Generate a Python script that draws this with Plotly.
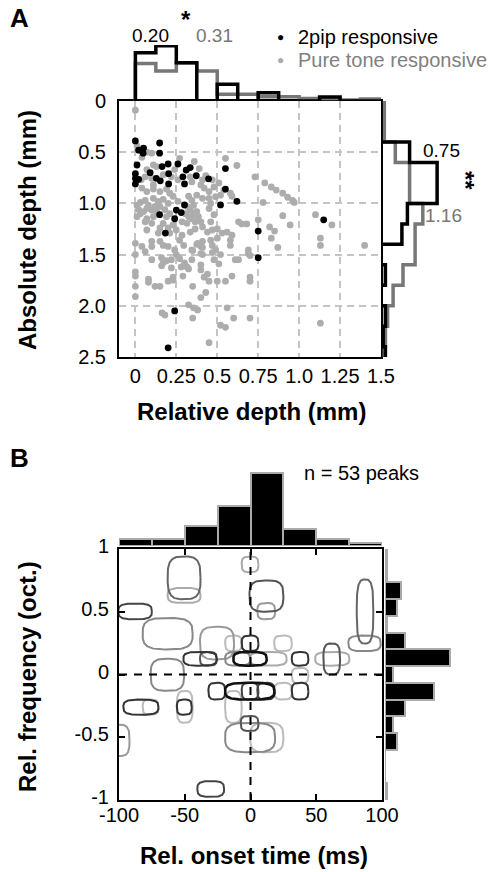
import numpy as np
import plotly.graph_objects as go

W, H = 501, 872
FONT = "Liberation Sans, Arial, Helvetica, sans-serif"

# ---------------- Panel A data ----------------
black_rel = [0, 0.148, 0.02, 0.05, 0.047, 0.148, 0.01, 0.20, 0.163, 0.26, 0.09, 0, 0, 0.02, 0,
             0.128, 0.152, 0.203, 0.31, 0.335, 0.372, 0.29, 0.447, 0.55, 0.203, 0.30, 0.55, 0.52,
             0.62, 0.30, 0.25, 0.28, 0.148, 0.24, 0.183, 0.75, 1.15, 0.75, 0.24, 0.20]
black_abs = [0.39, 0.41, 0.48, 0.46, 0.51, 0.51, 0.625, 0.615, 0.64, 0.615, 0.70, 0.71, 0.755, 0.765, 0.81,
             0.755, 0.78, 0.71, 0.675, 0.65, 0.73, 0.74, 0.76, 0.66, 0.81, 0.81, 0.86, 1.015,
             0.98, 1.015, 1.065, 1.09, 1.11, 1.15, 1.29, 1.27, 1.16, 1.53, 2.05, 2.41]

gray_rel = [0.00, 0.01, 0.07, 0.10, 0.04, 0.27, 0.36, 0.55, 0.62, 0.11, 0.07, 0.13, 0.315, 0.24, 0.39,
            0.035, 0.06, 0.10, 0.17, 0.22, 0.11, 0.26, 0.335, 0.345, 0.40, 0.41, 0.43, 0.47, 0.48, 0.51,
            0.54, 0.52, 0.58, 0.59, 0.42, 0.45, 0.04, 0.07, 0.11, 0.15, 0.19, 0.21, 0.11, 0.06, 0.03,
            0.14, 0.17, 0.20, 0.08, 0.12, 0.23, 0.26, 0.325, 0.345, 0.375, 0.41, 0.45, 0.49, 0.46, 0.355,
            0.01, 0.02, 0.03, 0.01, 0.05, 0.07, 0.10, 0.13, 0.15, 0.18, 0.21, 0.19, 0.11, 0.07, 0.315,
            0.335, 0.355, 0.375, 0.385, 0.345, 0.365, 0.325, 0.305, 0.45, 0.48, 0.40, 0.315, 0.285, 0.23,
            0.17, 0.20, 0.10, 0.06, 0.15, 0.07, 0.14, 0.21, 0.25, 0.285, 0.335, 0.365, 0.41, 0.44, 0.47,
            0.50, 0.53, 0.56, 0.59, 0.63, 0.65, 0.68, 0.46, 0.00, 0.04, 0.06, 0.10, 0.10, 0.15, 0.17,
            0.20, 0.24, 0.27, 0.295, 0.345, 0.375, 0.40, 0.41, 0.46, 0.47, 0.50, 0.49, 0.52, 0.58, 0.61,
            0.63, 0.69, 0.69, 0.10, 0.16, 0.17, 0.22, 0.345, 0.41, 0.48, 0.51, 0.40, 0.315,
            0.73, 0.79, 0.83, 0.86, 0.90, 0.93, 0.96, 0.97, 0.78, 0.90, 1.10, 1.20, 0.945, 0.82, 0.85,
            0.75, 0.83, 0.87, 1.13, 1.13, 1.40,
            0.70, 0.59, 0.70, 0.70, 0.55, 0.50, 0.45, 0.42, 0.43, 0.40, 0.35, 0.325, 0.355, 0.38, 0.35,
            0.56, 0.60, 0.70, 0.52, 0.55, 0.163, 0.18, 0.45, 1.13, 0.00, 0.00, 0.00, 0.00, 0.00, 0.08,
            0.08, 0.12, 0.15, 0.20, 0.23, 0.23, 0.22, 0.16, 0.19, 0.29, 0.28, 0.30, 0.325, 0.25, 0.27,
            0.35, 0.40, 0.44, 0.47, 0.40, 0.41, 0.38, 0.58]
gray_abs = [0.09, 0.44, 0.50, 0.51, 0.55, 0.56, 0.59, 0.56, 0.63, 0.625, 0.67, 0.64, 0.67, 0.67, 0.66,
            0.77, 0.74, 0.755, 0.72, 0.74, 0.82, 0.77, 0.74, 0.79, 0.82, 0.77, 0.73, 0.77, 0.84, 0.80,
            0.87, 0.92, 0.90, 0.93, 0.85, 0.885, 0.85, 0.885, 0.86, 0.885, 0.86, 0.90, 0.95, 0.97, 0.99,
            0.98, 0.96, 1.00, 1.02, 1.03, 0.93, 0.98, 0.93, 0.97, 0.92, 0.95, 0.95, 0.935, 1.00, 1.02,
            1.02, 1.06, 1.10, 1.13, 1.08, 1.05, 1.065, 1.08, 1.03, 1.06, 1.10, 1.13, 1.13, 1.15, 1.03,
            1.065, 1.10, 1.08, 1.13, 1.15, 1.18, 1.13, 1.10, 1.05, 1.11, 1.18, 1.195, 1.18, 1.21,
            1.195, 1.24, 1.195, 1.18, 1.24, 1.26, 1.29, 1.29, 1.26, 1.31, 1.28, 1.25, 1.23, 1.28, 1.26,
            1.25, 1.29, 1.28, 1.31, 1.18, 1.20, 1.20, 1.18, 1.39, 1.42, 1.47, 1.37, 1.42, 1.37, 1.41,
            1.42, 1.455, 1.36, 1.41, 1.455, 1.40, 1.42, 1.37, 1.36, 1.41, 1.34, 1.455, 1.50, 1.36, 1.55,
            1.55, 1.455, 1.49, 1.55, 1.53, 1.58, 1.55, 1.55, 1.50, 1.55, 1.59, 1.60, 1.62,
            0.74, 0.80, 0.84, 0.87, 0.90, 0.94, 0.97, 0.99, 0.99, 1.12, 1.11, 1.21, 1.21, 1.23, 1.27,
            1.16, 1.34, 1.43, 1.34, 1.41, 1.41,
            1.51, 1.71, 1.72, 1.76, 1.76, 1.76, 1.76, 1.72, 1.87, 1.92, 1.81, 1.99, 2.02, 2.04, 2.12,
            2.02, 2.12, 2.12, 2.19, 2.21, 2.07, 2.09, 2.36, 2.17, 1.50, 1.67, 1.71, 1.81, 1.91, 1.74,
            1.77, 1.81, 1.81, 1.76, 1.72, 1.75, 1.63, 1.61, 1.56, 1.71, 1.62, 1.58, 1.64, 1.50, 1.54,
            1.46, 1.65, 1.69, 1.48, 1.49, 1.43, 1.39, 1.41]

rel_edges = [0, 0.125, 0.25, 0.375, 0.5, 0.625, 0.75, 0.875, 1.0, 1.125, 1.25, 1.375, 1.5]
rel_hist_2pip = [0.284, 0.324, 0.225, 0.0, 0.098, 0.0, 0.049, 0.0, 0.0, 0.024, 0.0, 0.0]
rel_hist_tone = [0.22, 0.176, 0.225, 0.176, 0.04, 0.04, 0.025, 0.025, 0.015, 0.015, 0.006, 0.012]

abs_edges = [0, 0.2, 0.4, 0.6, 0.8, 1.0, 1.2, 1.4, 1.6, 1.8, 2.0, 2.2, 2.4, 2.6]
abs_hist_2pip = [0.0, 0.0, 0.13, 0.255, 0.255, 0.12, 0.095, 0.0, 0.02, 0.0, 0.02, 0.01, 0.02]
abs_hist_tone = [0.015, 0.015, 0.065, 0.13, 0.13, 0.19, 0.155, 0.155, 0.10, 0.055, 0.03, 0.02, 0.015]

rel_ticks = [0, 0.25, 0.5, 0.75, 1.0, 1.25, 1.5]
rel_ticktext = ["0", "0.25", "0.5", "0.75", "1.0", "1.25", "1.5"]
abs_ticks = [0, 0.5, 1.0, 1.5, 2.0, 2.5]
abs_ticktext = ["0", "0.5", "1.0", "1.5", "2.0", "2.5"]

# ---------------- Panel B data ----------------
time_bin_centers = [-87.5, -62.5, -37.5, -12.5, 12.5, 37.5, 62.5, 87.5]
time_counts = [2, 2, 6, 12, 22, 5, 2, 1]
freq_bin_centers = [-1 + (2 * k + 1) / 15 for k in range(15)]
freq_counts = [0.5, 0, 0, 3, 2, 5, 12, 2, 16, 5, 0.5, 3, 4, 0.5, 0.5]

# peak regions: onset time range (ms), frequency range (oct.), gray level
peak_t0 = [-63, -63, -6.7, -0.8, 5.2, -100.5, -82, -38.4, -19.3, -6.7, 18, 80.8, 74.4, -51, -38.4,
           -19.3, -13, -0.3, 31.4, 49.2, 55.4, 31.4, -75.9, -32, -19.3, -6.7, 5.2, 18.2, 31.4,
           -19.3, -96.7, -82, -56, -56, -7.4, -19.3, -0.3, -108, -40.4]
peak_t1 = [-38, -38, 6, 25, 18.7, -75, -44, -12.5, -6.7, 6, 31.4, 93.4, 99, -25.7, -25.7,
           -0.3, 12.3, 27.5, 44, 75.2, 68.1, 44, -50.5, -19.3, 18.2, 6, 18.2, 31.4, 44,
           -6.7, -70, -70, -44, -44.7, 6, 18.7, 25, -92, -20.1]
peak_f0 = [0.60, 0.57, 0.815, 0.50, 0.44, 0.44, 0.20, 0.12, 0.186, 0.186, 0.186, 0.247, 0.186, 0.07, 0.07,
           0.07, 0.07, 0.07, 0.07, 0.07, 0.0, -0.07, -0.13, -0.2, -0.2, -0.2, -0.2, -0.2, -0.2,
           -0.385, -0.32, -0.32, -0.385, -0.32, -0.45, -0.62, -0.62, -0.65, -0.975]
peak_f1 = [0.94, 0.69, 0.94, 0.75, 0.57, 0.565, 0.45, 0.38, 0.31, 0.31, 0.31, 0.757, 0.31, 0.18, 0.18,
           0.18, 0.18, 0.18, 0.18, 0.18, 0.247, 0.053, 0.125, -0.066, -0.066, -0.066, -0.066, -0.066, -0.066,
           -0.13, -0.2, -0.2, -0.13, -0.2, -0.33, -0.385, -0.385, -0.40, -0.85]
peak_gray = [0x66, 0xaa, 0xaa, 0x55, 0x99, 0x44, 0x88, 0x99, 0xbb, 0x33, 0xbb, 0x66, 0x88, 0x33, 0x55,
             0x88, 0x11, 0xaa, 0x33, 0xaa, 0x55, 0xbb, 0x88, 0x33, 0x11, 0x44, 0x44, 0xbb, 0x33,
             0xbb, 0x33, 0xbb, 0xbb, 0x33, 0x55, 0x88, 0xbb, 0x99, 0x44]

time_ticks = [-100, -50, 0, 50, 100]
time_ticktext = ["-100", "-50", "0", "50", "100"]
freq_ticks = [-1, -0.5, 0, 0.5, 1]
freq_ticktext = ["-1", "-0.5", "0", "0.5", "1"]


def px_x(p):
    return p / W


def px_y(p):
    return 1 - p / H


fig = go.Figure()

# ---- Panel A: scatter
fig.add_trace(go.Scatter(x=gray_rel, y=gray_abs, mode="markers", xaxis="x", yaxis="y",
                         marker=dict(size=6.8, color="#adadad"), showlegend=False))
fig.add_trace(go.Scatter(x=black_rel, y=black_abs, mode="markers", xaxis="x", yaxis="y",
                         marker=dict(size=6.8, color="#000000"), showlegend=False))

# ---- Panel A: top histogram (step outlines)
for vals, col in [(rel_hist_tone, "#777777"), (rel_hist_2pip, "#000000")]:
    xs = [rel_edges[0]] + rel_edges[:-1] + [rel_edges[-1]]
    ys = [0] + vals + [0]
    fig.add_trace(go.Scatter(x=xs, y=ys, mode="lines", line=dict(color=col, width=3.5, shape="hv"),
                             xaxis="x2", yaxis="y2", showlegend=False))

# ---- Panel A: right histogram (step outlines)
for vals, col in [(abs_hist_tone, "#777777"), (abs_hist_2pip, "#000000")]:
    xs = [0] + vals + [0]
    ys = abs_edges + [abs_edges[-1]]
    fig.add_trace(go.Scatter(x=xs, y=ys, mode="lines", line=dict(color=col, width=3.5, shape="hv"),
                             xaxis="x3", yaxis="y3", showlegend=False))

# ---- Panel B: peak regions (rounded outlines)
theta = np.linspace(0, 2 * np.pi, 100)
order = sorted(range(len(peak_gray)), key=lambda i: -peak_gray[i])
for i in order:
    cx = (peak_t0[i] + peak_t1[i]) / 2
    cy = (peak_f0[i] + peak_f1[i]) / 2
    a = (peak_t1[i] - peak_t0[i]) / 2
    b = (peak_f1[i] - peak_f0[i]) / 2
    c, s = np.cos(theta), np.sin(theta)
    xs = cx + a * np.sign(c) * np.abs(c) ** 0.62
    ys = cy + b * np.sign(s) * np.abs(s) ** 0.62
    g = peak_gray[i]
    col = "#%02x%02x%02x" % (g, g, g)
    fig.add_trace(go.Scatter(x=xs, y=ys, mode="lines", xaxis="x4", yaxis="y4",
                             line=dict(color=col, width=2.6 if g < 0x20 else 2),
                             showlegend=False, hoverinfo="skip"))

# dashed zero lines
fig.add_trace(go.Scatter(x=[0, 0], y=[freq_ticks[0], freq_ticks[-1]], mode="lines", xaxis="x4", yaxis="y4",
                         line=dict(color="black", width=2, dash="8px,7px"), showlegend=False))
fig.add_trace(go.Scatter(x=[time_ticks[0], time_ticks[-1]], y=[0, 0], mode="lines", xaxis="x4", yaxis="y4",
                         line=dict(color="black", width=2, dash="8px,7px"), showlegend=False))

# ---- Panel B histograms
fig.add_trace(go.Bar(x=time_bin_centers, y=time_counts, width=25, xaxis="x5", yaxis="y5",
                     marker=dict(color="black", line=dict(color="#aaaaaa", width=2)), showlegend=False))
fig.add_trace(go.Bar(y=freq_bin_centers, x=freq_counts, orientation="h", width=2 / 15, xaxis="x6", yaxis="y6",
                     marker=dict(color="black", line=dict(color="#aaaaaa", width=2)), showlegend=False))

tickfont = dict(family=FONT, size=20, color="black")
hidden = dict(visible=False, showgrid=False, zeroline=False, automargin=False)

A_x = [px_x(119), px_x(381)]
A_y = [px_y(357), px_y(101)]
B_x = [px_x(119), px_x(382)]
B_y = [px_y(800), px_y(549)]

fig.update_layout(
    width=W, height=H, autosize=False,
    margin=dict(l=0, r=0, t=0, b=0, pad=0, autoexpand=False),
    paper_bgcolor="white", plot_bgcolor="white",
    bargap=0,
    font=dict(family=FONT, size=20, color="black"),
    xaxis=dict(domain=A_x, range=[-0.1, 1.5], tickvals=rel_ticks, ticktext=rel_ticktext,
               showgrid=True, gridcolor="#c4c4c4", gridwidth=1.5, griddash="7px,5px",
               zeroline=False, showline=True, linecolor="black", linewidth=2, mirror=True,
               ticks="", tickfont=tickfont, ticklabelstandoff=0, automargin=False),
    yaxis=dict(domain=A_y, range=[2.5, 0], tickvals=abs_ticks, ticktext=abs_ticktext,
               showgrid=True, gridcolor="#c4c4c4", gridwidth=1.5, griddash="7px,5px",
               zeroline=False, showline=True, linecolor="black", linewidth=2, mirror=True,
               ticks="", tickfont=tickfont, ticklabelstandoff=7, automargin=False),
    xaxis2=dict(domain=A_x, range=[-0.1, 1.5], anchor="y2", **hidden),
    yaxis2=dict(domain=[px_y(101), px_y(45)], range=[0, 0.329], anchor="x2", **hidden),
    xaxis3=dict(domain=[px_x(381), px_x(441)], range=[0, 0.2727], anchor="y3", **hidden),
    yaxis3=dict(domain=A_y, range=[2.5, 0], anchor="x3", **hidden),
    xaxis4=dict(domain=B_x, range=[-100, 100], anchor="y4", tickvals=time_ticks, ticktext=time_ticktext,
                showgrid=False, zeroline=False, showline=True, linecolor="black", linewidth=2, mirror="ticks",
                ticks="inside", ticklen=6, tickwidth=2, tickcolor="black", tickfont=tickfont,
                ticklabelstandoff=-4, automargin=False),
    yaxis4=dict(domain=B_y, range=[-1, 1], anchor="x4", tickvals=freq_ticks, ticktext=freq_ticktext,
                showgrid=False, zeroline=False, showline=True, linecolor="black", linewidth=2, mirror="ticks",
                ticks="inside", ticklen=6, tickwidth=2, tickcolor="black", tickfont=tickfont,
                ticklabelstandoff=4, ticklabelshift=-3, automargin=False),
    xaxis5=dict(domain=B_x, range=[-100, 100], anchor="y5", **hidden),
    yaxis5=dict(domain=[px_y(546), px_y(470)], range=[0, 22.9], anchor="x5", **hidden),
    xaxis6=dict(domain=[px_x(385), px_x(455)], range=[0, 17.24], anchor="y6", **hidden),
    yaxis6=dict(domain=B_y, range=[-1, 1], anchor="x6", **hidden),
)

ann = []


def add_text(text, x, y, size=20, color="black", bold=False, angle=0, xanchor="center"):
    ann.append(dict(text=("<b>%s</b>" % text) if bold else text, x=px_x(x), y=px_y(y),
                    xref="paper", yref="paper", showarrow=False, textangle=angle,
                    xanchor=xanchor, yanchor="middle",
                    font=dict(family=FONT, size=size, color=color)))


add_text("A", 19, 18, size=26, bold=True)
add_text("B", 19, 458, size=26, bold=True)
add_text("0.20", 150, 35, size=19)
add_text("*", 186, 19, size=24, bold=True)
add_text("0.31", 214, 35, size=19, color="#777777")
add_text("●", 280, 37, size=12, color="black")
add_text("●", 280, 60, size=12, color="#aaaaaa")
add_text("2pip responsive", 296, 37, size=20, xanchor="left")
add_text("Pure tone responsive", 296, 60, size=20, color="#808080", xanchor="left")
add_text("0.75", 441, 150, size=19)
add_text("1.16", 443, 215, size=19, color="#777777")
add_text("**", 466, 180, size=24, bold=True, angle=90)
add_text("Absolute depth (mm)", 27, 230, size=24, bold=True, angle=-90)
add_text("Relative depth (mm)", 252, 412, size=24, bold=True)
add_text("n = 53 peaks", 361, 473, size=20)
add_text("Rel. frequency (oct.)", 27, 677, size=24, bold=True, angle=-90)
add_text("Rel. onset time (ms)", 254, 855, size=24, bold=True)
fig.update_layout(annotations=ann)

fig.write_html("out.html", config={"displayModeBar": False},
               post_script="document.body.style.margin='0px';document.body.style.overflow='hidden';")
